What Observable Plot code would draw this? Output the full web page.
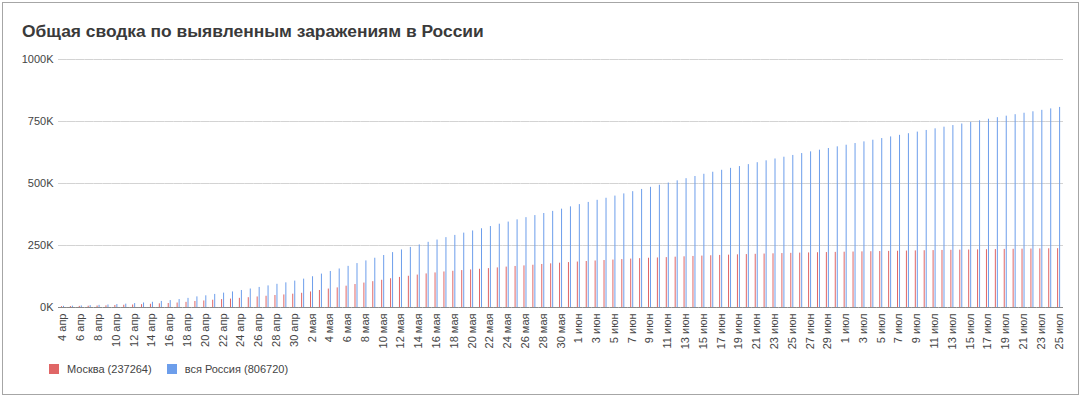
<!DOCTYPE html>
<html><head><meta charset="utf-8">
<script src="https://cdn.jsdelivr.net/npm/d3@7"></script>
<script src="https://cdn.jsdelivr.net/npm/@observablehq/plot@0.6"></script>
<style>
body{margin:0;background:#fff;font-family:Arial,"Liberation Sans",sans-serif;}
#wrap{position:relative;width:1087px;height:398px;overflow:hidden;background:#fff;}
#frame{position:absolute;left:2px;top:2px;width:1077px;height:393px;border:1px solid #a6a6a6;box-sizing:border-box;}
#title{position:absolute;left:22px;top:21px;font-size:17.4px;line-height:20px;font-weight:bold;color:#3a3a3a;white-space:nowrap;}
#chart{position:absolute;left:0;top:0;}
#legend{position:absolute;left:49px;top:362px;display:flex;align-items:center;font-size:11px;line-height:14px;color:#444;}
.sw{width:10px;height:10px;display:inline-block;margin-right:8px;}
.item{display:flex;align-items:center;margin-right:15px;}
</style>
</head><body>
<div id="wrap">
<div id="frame"></div>
<div id="title">Общая сводка по выявленным заражениям в России</div>
<div id="chart"></div>
<div id="legend"></div>
</div>
<script>
const labels = [
"4 апр","5 апр","6 апр","7 апр","8 апр","9 апр","10 апр","11 апр","12 апр","13 апр","14 апр","15 апр","16 апр","17 апр","18 апр","19 апр","20 апр","21 апр","22 апр","23 апр","24 апр","25 апр","26 апр","27 апр","28 апр","29 апр","30 апр",
"1 мая","2 мая","3 мая","4 мая","5 мая","6 мая","7 мая","8 мая","9 мая","10 мая","11 мая","12 мая","13 мая","14 мая","15 мая","16 мая","17 мая","18 мая","19 мая","20 мая","21 мая","22 мая","23 мая","24 мая","25 мая","26 мая","27 мая","28 мая","29 мая","30 мая","31 мая",
"1 июн","2 июн","3 июн","4 июн","5 июн","6 июн","7 июн","8 июн","9 июн","10 июн","11 июн","12 июн","13 июн","14 июн","15 июн","16 июн","17 июн","18 июн","19 июн","20 июн","21 июн","22 июн","23 июн","24 июн","25 июн","26 июн","27 июн","28 июн","29 июн","30 июн",
"1 июл","2 июл","3 июл","4 июл","5 июл","6 июл","7 июл","8 июл","9 июл","10 июл","11 июл","12 июл","13 июл","14 июл","15 июл","16 июл","17 июл","18 июл","19 июл","20 июл","21 июл","22 июл","23 июл","24 июл","25 июл"
];
const moscow = [
3357,3893,4484,5181,5841,6698,8203,9204,10158,11513,13002,14776,16146,18105,20754,24324,26350,29433,31981,33940,36897,39509,42480,45351,48426,50646,53739,
57300,62658,68606,74401,79094,85973,92676,98522,104189,109740,115909,121301,126004,130716,135464,139421,143300,146062,148867,151521,154110,156837,159693,162936,165510,167803,170412,173497,176108,178658,181187,
183378,185470,187554,189389,191307,193281,195304,197018,198617,199785,201211,202935,204428,205905,207264,208681,209951,211157,212376,213479,214500,215500,216500,217500,218400,219300,220100,220900,221600,222300,
223000,223700,224400,225000,225700,226300,226900,227600,228200,228900,229500,230100,230700,231300,231900,232500,233100,233700,234300,234800,235300,235800,236300,236800,237264
];
const russia = [
4731,5389,6343,7497,8672,10131,11917,13584,15770,18328,21102,24490,27938,32008,36793,42853,47121,52763,57999,62773,68622,74588,80949,87147,93558,99399,106498,
114431,124054,134687,145268,155370,165929,177160,187859,198676,209688,221344,232243,242271,252245,262843,272043,281752,290678,299941,308705,317554,326448,335882,344481,353427,362342,370680,379051,387623,396575,405843,
414878,423741,432277,440538,449256,458102,467073,476043,484630,493023,501800,510761,519458,528267,537210,545458,553301,561091,568292,576162,583879,591465,598878,606043,613148,620794,627646,634437,641156,647849,
654405,661165,667883,674515,681251,687862,694230,700792,707301,713936,720547,727162,733699,739947,746369,752797,759203,765437,771546,777486,783328,789190,795038,800849,806720
];
const seriesNames = ["Москва", "вся Россия"];
const seriesColors = ["#e06666", "#6d9eeb"];
const yTicks = [0, 250000, 500000, 750000, 1000000];

const data = labels.flatMap((d, i) => [
  {date: d, series: seriesNames[0], value: moscow[i]},
  {date: d, series: seriesNames[1], value: russia[i]}
]);

const chart = Plot.plot({
  width: 1087, height: 350,
  marginLeft: 58, marginRight: 24, marginTop: 59, marginBottom: 43,
  style: {fontFamily: "Arial, 'Liberation Sans', sans-serif", fontSize: "11px", color: "#444", background: "transparent"},
  fx: {domain: labels, padding: 0, axis: "bottom", ticks: labels.filter((d, i) => i % 2 === 0),
       tickRotate: -90, tickSize: 0, tickPadding: 6, label: null},
  x: {domain: seriesNames, paddingInner: 0.3, paddingOuter: 0.65, axis: null},
  y: {domain: [0, 1000000], ticks: yTicks, tickFormat: d => (d / 1000) + "K", tickSize: 0, tickPadding: 5, label: null},
  color: {domain: seriesNames, range: seriesColors},
  marks: [
    Plot.ruleY(yTicks.slice(1), {stroke: "#d3d3d3", strokeWidth: 1}),
    Plot.barY(data, {fx: "date", x: "series", y: "value", fill: "series"}),
    Plot.ruleY([0], {stroke: "#888", strokeWidth: 1})
  ]
});
document.getElementById("chart").appendChild(chart);

const legend = document.getElementById("legend");
seriesNames.forEach((s, i) => {
  const total = i === 0 ? moscow[moscow.length - 1] : russia[russia.length - 1];
  const item = document.createElement("div");
  item.className = "item";
  item.innerHTML = `<span class="sw" style="background:${seriesColors[i]}"></span><span>${s} (${total})</span>`;
  legend.appendChild(item);
});
</script>
</body></html>
